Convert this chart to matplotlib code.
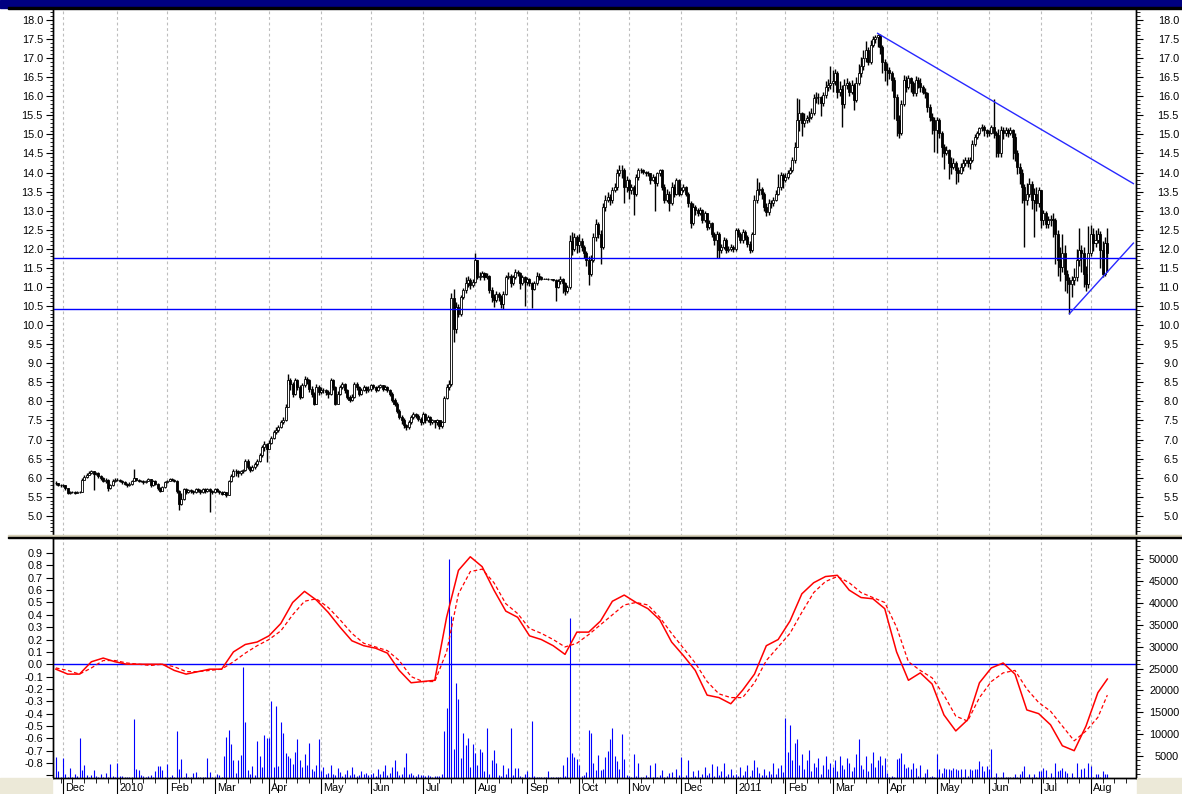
import numpy as np
import pandas as pd
import matplotlib
matplotlib.use('Agg')
import matplotlib.pyplot as plt
from matplotlib.patches import Rectangle
from matplotlib.ticker import MultipleLocator, FixedLocator

plt.rcParams['font.family'] = ['Liberation Sans', 'DejaVu Sans']
plt.rcParams['font.size'] = 7.8

# daily sessions, 26 Nov 2009 .. 10 Aug 2011 (one line per month)
close = [
    5.85, 5.82, 5.80,
    5.80, 5.72, 5.60, 5.62, 5.62, 5.61, 5.62, 5.63, 5.95, 6.02, 6.08, 6.13, 6.17, 6.10, 6.13, 6.05, 6.00, 5.92, 5.95, 5.72, 5.80, 5.92, 5.95,
    5.95, 5.92, 5.88, 5.84, 5.80, 5.84, 5.92, 5.98, 5.95, 5.92, 5.92, 5.88, 5.92, 5.96, 5.80, 5.92, 5.84, 5.72, 5.66, 5.75, 5.88,
    5.92, 5.96, 5.95, 5.92, 5.65, 5.30, 5.45, 5.70, 5.62, 5.68, 5.65, 5.62, 5.70, 5.68, 5.62, 5.70, 5.66, 5.70, 5.66, 5.62,
    5.70, 5.66, 5.62, 5.58, 5.62, 5.55, 5.92, 6.05, 6.17, 6.17, 6.12, 6.17, 6.20, 6.45, 6.27, 6.20, 6.27, 6.35, 6.45, 6.60, 6.80, 6.89, 6.75,
    6.90, 7.05, 7.20, 7.25, 7.32, 7.45, 7.50, 7.85, 8.55, 8.46, 8.20, 8.55, 8.38, 8.11, 8.42, 8.60, 8.55, 8.33, 8.20, 7.94, 8.38, 8.24,
    8.30, 8.29, 8.24, 8.20, 8.55, 8.38, 7.94, 8.20, 8.38, 8.46, 8.29, 8.11, 8.03, 8.11, 8.46, 8.38, 8.20, 8.29, 8.38, 8.29, 8.33,
    8.42, 8.38, 8.29, 8.38, 8.42, 8.33, 8.38, 8.29, 8.20, 8.03, 7.94, 7.76, 7.60, 7.50, 7.38, 7.32, 7.45, 7.60, 7.67, 7.63, 7.55, 7.45,
    7.68, 7.50, 7.60, 7.45, 7.50, 7.45, 7.50, 7.35, 7.45, 8.10, 8.38, 8.46, 10.70, 9.90, 10.47, 10.30, 10.74, 10.91, 11.10, 11.18, 11.05, 11.14,
    11.70, 11.27, 11.30, 11.36, 11.27, 11.30, 10.91, 10.74, 10.65, 10.82, 10.74, 10.56, 10.82, 11.27, 11.30, 11.10, 11.27, 11.40, 11.36, 11.10, 11.27, 11.14,
    11.20, 11.10, 10.95, 11.10, 11.30, 11.25, 11.22, 11.22, 11.22, 11.20, 11.20, 11.18, 11.00, 11.15, 11.20, 11.10, 10.90, 11.00, 12.20, 12.00, 12.30, 12.10,
    12.20, 12.05, 11.88, 11.70, 11.35, 11.70, 12.30, 12.65, 12.40, 12.05, 13.10, 13.28, 13.37, 13.28, 13.54, 13.63, 13.98, 14.06, 14.06, 13.63, 13.80,
    13.54, 13.63, 13.45, 13.89, 14.06, 14.06, 14.02, 13.98, 13.98, 13.80, 13.89, 13.72, 13.98, 14.06, 13.63, 13.28, 13.45, 13.19, 13.63, 13.45, 13.80, 13.45,
    13.54, 13.63, 13.45, 13.19, 12.67, 13.10, 13.01, 12.93, 13.01, 12.75, 12.93, 12.58, 12.67, 12.40, 12.22, 12.40, 11.96, 12.05, 12.22, 11.96, 12.00, 12.05, 12.00,
    12.50, 12.40, 12.22, 12.45, 12.30, 12.13, 11.96, 12.40, 13.28, 13.54, 13.58, 13.45, 13.10, 12.97, 13.19, 13.19, 13.28, 13.45, 13.63, 13.93, 13.80,
    13.89, 13.98, 14.06, 14.32, 14.67, 15.38, 15.55, 15.29, 15.38, 15.42, 15.46, 15.55, 15.95, 15.99, 15.99, 15.82, 16.03, 16.25, 16.30, 16.34,
    16.40, 16.60, 16.10, 16.20, 15.80, 16.30, 16.35, 16.10, 16.30, 15.90, 16.35, 16.60, 16.80, 17.00, 17.20, 16.90, 17.35, 17.50, 17.55, 17.60, 17.30, 16.90, 16.70,
    16.69, 16.60, 16.43, 15.99, 15.38, 15.03, 15.81, 16.43, 16.25, 16.47, 16.34, 16.08, 16.43, 16.34, 16.25, 16.12, 16.08, 15.73, 15.46, 15.38, 15.11,
    15.38, 15.03, 14.68, 14.50, 14.59, 14.24, 14.15, 14.24, 14.06, 13.98, 14.15, 14.24, 14.33, 14.24, 14.33, 14.76, 14.94, 15.03, 15.16, 15.20, 15.11, 15.03,
    15.03, 15.20, 15.03, 14.98, 14.50, 15.11, 15.03, 15.11, 15.03, 15.11, 14.94, 14.50, 14.15, 13.98, 13.63, 13.28, 13.45, 13.71, 13.28, 13.45, 13.19, 13.54,
    12.75, 12.93, 12.66, 12.75, 12.79, 12.75, 12.40, 11.70, 11.53, 11.88, 11.35, 11.18, 11.09, 11.18, 11.26, 11.70, 11.96, 11.88, 11.35, 11.09, 11.88,
    12.40, 12.14, 12.23, 12.40, 11.96, 11.35, 12.14, 11.88,
]

high = [
    5.90, 5.86, 5.84,
    5.84, 5.80, 5.72, 5.66, 5.65, 5.64, 5.65, 5.66, 6.00, 6.06, 6.12, 6.18, 6.20, 6.18, 6.16, 6.14, 6.06, 6.02, 5.98, 5.96, 5.84, 5.96, 6.00,
    5.98, 5.97, 5.94, 5.90, 5.86, 5.88, 5.95, 6.22, 6.00, 5.97, 5.95, 5.93, 5.95, 5.99, 5.97, 5.95, 5.93, 5.86, 5.75, 5.78, 5.91,
    5.95, 5.99, 5.98, 5.96, 5.94, 5.68, 5.60, 5.74, 5.72, 5.71, 5.70, 5.68, 5.73, 5.72, 5.70, 5.73, 5.72, 5.74, 5.72, 5.68,
    5.73, 5.72, 5.68, 5.64, 5.65, 5.63, 5.95, 6.10, 6.22, 6.22, 6.20, 6.21, 6.24, 6.50, 6.48, 6.30, 6.32, 6.40, 6.50, 6.65, 6.85, 6.95, 6.92,
    6.98, 7.10, 7.26, 7.32, 7.38, 7.50, 7.58, 7.92, 8.73, 8.62, 8.50, 8.62, 8.58, 8.42, 8.48, 8.66, 8.64, 8.58, 8.40, 8.24, 8.45, 8.42,
    8.38, 8.36, 8.32, 8.30, 8.62, 8.58, 8.40, 8.28, 8.44, 8.52, 8.48, 8.32, 8.18, 8.20, 8.52, 8.50, 8.40, 8.34, 8.44, 8.40, 8.40,
    8.46, 8.45, 8.40, 8.42, 8.46, 8.44, 8.42, 8.40, 8.32, 8.24, 8.10, 7.98, 7.80, 7.65, 7.56, 7.42, 7.50, 7.65, 7.72, 7.70, 7.66, 7.58,
    7.72, 7.70, 7.64, 7.62, 7.55, 7.52, 7.54, 7.52, 7.48, 8.15, 8.45, 8.55, 10.85, 10.95, 10.60, 10.55, 10.80, 10.98, 11.25, 11.30, 11.24, 11.20,
    11.90, 11.72, 11.38, 11.42, 11.40, 11.36, 11.32, 11.00, 10.82, 10.90, 10.88, 10.78, 10.90, 11.32, 11.38, 11.34, 11.32, 11.46, 11.44, 11.38, 11.32, 11.30,
    11.26, 11.24, 11.14, 11.16, 11.40, 11.36, 11.28, 11.24, 11.23, 11.23, 11.22, 11.22, 11.20, 11.20, 11.28, 11.24, 11.12, 11.05, 12.35, 12.45, 12.42, 12.36,
    12.40, 12.28, 12.10, 11.95, 11.80, 11.85, 12.42, 12.78, 12.70, 12.50, 13.20, 13.40, 13.50, 13.45, 13.62, 13.72, 14.10, 14.20, 14.20, 14.12, 13.92,
    13.82, 13.70, 13.68, 13.95, 14.12, 14.12, 14.10, 14.05, 14.04, 14.00, 13.95, 13.92, 14.02, 14.10, 14.08, 13.70, 13.58, 13.52, 13.75, 13.70, 13.86, 13.82,
    13.62, 13.70, 13.66, 13.50, 13.25, 13.20, 13.15, 13.08, 13.10, 13.05, 13.00, 12.95, 12.75, 12.70, 12.45, 12.48, 12.45, 12.12, 12.30, 12.28, 12.08, 12.12, 12.10,
    12.55, 12.55, 12.45, 12.52, 12.50, 12.35, 12.20, 12.45, 13.40, 13.85, 13.75, 13.62, 13.50, 13.20, 13.30, 13.28, 13.35, 13.55, 13.95, 14.02, 13.98,
    13.98, 14.06, 14.15, 14.40, 14.80, 15.95, 15.92, 15.60, 15.55, 15.52, 15.62, 15.70, 16.05, 16.10, 16.08, 16.02, 16.12, 16.40, 16.45, 16.80,
    16.70, 16.72, 16.65, 16.40, 16.30, 16.45, 16.48, 16.40, 16.42, 16.35, 16.50, 16.85, 17.02, 17.22, 17.45, 17.30, 17.48, 17.58, 17.60, 17.62, 17.62, 17.35, 16.98,
    16.86, 16.78, 16.65, 16.50, 16.05, 15.50, 15.90, 16.55, 16.52, 16.55, 16.50, 16.40, 16.52, 16.50, 16.48, 16.30, 16.22, 16.10, 15.80, 15.55, 15.45,
    15.45, 15.42, 15.10, 14.75, 14.70, 14.62, 14.40, 14.38, 14.30, 14.15, 14.25, 14.35, 14.42, 14.40, 14.40, 14.85, 15.00, 15.10, 15.20, 15.28, 15.25, 15.15,
    15.12, 15.25, 15.92, 15.10, 15.15, 15.22, 15.20, 15.20, 15.18, 15.20, 15.15, 15.05, 14.60, 14.25, 14.10, 13.70, 13.72, 13.85, 13.78, 13.60, 13.62, 13.62,
    13.20, 13.02, 12.98, 12.85, 12.88, 12.95, 12.82, 12.50, 12.05, 12.40, 12.10, 11.45, 11.25, 11.30, 11.50, 12.00, 12.55, 12.10, 12.05, 11.55, 12.60,
    12.62, 12.55, 12.50, 12.55, 12.48, 12.20, 12.30, 12.55,
]

low = [
    5.80, 5.78, 5.76,
    5.76, 5.68, 5.56, 5.58, 5.59, 5.58, 5.59, 5.60, 5.62, 5.94, 6.00, 6.06, 6.10, 5.68, 6.06, 6.00, 5.94, 5.88, 5.86, 5.66, 5.70, 5.78, 5.88,
    5.90, 5.88, 5.84, 5.80, 5.76, 5.78, 5.82, 5.90, 5.90, 5.88, 5.88, 5.84, 5.86, 5.90, 5.76, 5.78, 5.80, 5.68, 5.62, 5.64, 5.72,
    5.86, 5.90, 5.91, 5.88, 5.60, 5.15, 5.28, 5.42, 5.58, 5.60, 5.60, 5.56, 5.60, 5.62, 5.56, 5.60, 5.60, 5.62, 5.10, 5.58,
    5.60, 5.62, 5.58, 5.54, 5.56, 5.50, 5.60, 5.88, 6.02, 6.05, 6.02, 6.08, 6.12, 6.18, 6.22, 6.14, 6.18, 6.24, 6.30, 6.42, 6.55, 6.70, 6.40,
    6.75, 6.88, 7.02, 7.15, 7.20, 7.30, 7.40, 7.48, 7.85, 8.30, 8.12, 8.18, 8.30, 8.05, 8.10, 8.38, 8.45, 8.25, 8.12, 7.90, 7.95, 8.18,
    8.20, 8.22, 8.18, 8.10, 8.18, 8.30, 7.90, 7.92, 8.16, 8.32, 8.22, 8.05, 7.98, 8.00, 8.08, 8.30, 8.14, 8.18, 8.26, 8.22, 8.24,
    8.28, 8.32, 8.24, 8.26, 8.34, 8.28, 8.30, 8.24, 8.15, 7.98, 7.88, 7.70, 7.55, 7.42, 7.30, 7.25, 7.28, 7.40, 7.55, 7.56, 7.48, 7.38,
    7.42, 7.44, 7.46, 7.38, 7.40, 7.30, 7.38, 7.28, 7.30, 7.45, 8.05, 8.30, 8.40, 9.55, 9.80, 10.20, 10.25, 10.68, 10.85, 11.00, 10.95, 11.00,
    11.10, 11.20, 11.18, 11.25, 11.18, 11.20, 10.85, 10.60, 10.48, 10.60, 10.62, 10.45, 10.42, 10.80, 11.20, 11.00, 11.05, 11.22, 11.28, 10.95, 11.05, 10.50,
    11.05, 11.02, 10.45, 10.92, 11.05, 11.18, 11.18, 11.20, 11.20, 11.18, 11.17, 11.15, 10.62, 10.98, 11.08, 10.85, 10.78, 10.85, 10.95, 11.85, 11.95, 11.90,
    11.92, 11.95, 11.75, 11.55, 11.05, 11.30, 11.65, 12.20, 12.28, 11.60, 12.00, 13.00, 13.22, 13.15, 13.20, 13.48, 13.55, 13.90, 13.85, 13.20, 13.50,
    13.30, 13.45, 12.90, 13.38, 13.80, 13.98, 13.95, 13.90, 13.90, 13.70, 13.78, 13.00, 13.65, 13.92, 13.55, 13.20, 13.22, 13.00, 13.15, 13.35, 13.40, 13.38,
    13.40, 13.50, 13.38, 13.10, 12.55, 12.62, 12.90, 12.85, 12.88, 12.68, 12.70, 12.50, 12.52, 12.30, 12.10, 11.75, 11.75, 11.90, 12.00, 11.90, 11.92, 11.95, 11.92,
    11.95, 12.32, 12.15, 12.15, 12.22, 12.05, 11.90, 11.92, 12.40, 13.20, 13.40, 13.30, 13.00, 12.85, 12.90, 13.08, 13.12, 13.25, 13.40, 13.55, 13.60,
    13.75, 13.82, 13.95, 14.02, 14.25, 14.70, 15.10, 14.95, 15.20, 15.30, 15.32, 15.40, 15.50, 15.82, 15.80, 15.48, 15.75, 15.95, 16.15, 16.20,
    16.10, 16.30, 15.95, 16.00, 15.20, 15.70, 16.18, 16.00, 16.05, 15.65, 15.85, 16.30, 16.50, 16.70, 16.90, 16.82, 16.85, 17.30, 17.40, 17.28, 17.10, 16.60, 16.40,
    16.30, 16.45, 16.15, 15.40, 14.95, 14.90, 14.98, 15.75, 16.10, 16.18, 16.12, 16.00, 16.02, 16.22, 16.10, 16.05, 15.95, 15.60, 15.35, 15.00, 14.55,
    14.50, 14.90, 14.40, 14.10, 14.45, 13.82, 13.95, 14.10, 13.70, 13.75, 13.95, 14.05, 14.18, 14.15, 14.08, 14.28, 14.70, 14.88, 14.98, 15.08, 14.95, 14.92,
    14.95, 15.00, 14.90, 14.40, 14.40, 14.40, 14.88, 14.95, 14.92, 14.98, 14.35, 14.30, 13.95, 13.70, 13.20, 12.05, 13.15, 13.35, 13.05, 12.30, 13.00, 13.10,
    12.55, 12.62, 12.55, 12.55, 12.60, 12.30, 11.60, 11.30, 11.15, 11.40, 10.90, 10.85, 10.30, 10.75, 11.05, 11.15, 11.55, 11.40, 11.00, 10.90, 10.98,
    11.80, 11.95, 12.05, 12.15, 11.50, 11.25, 11.30, 11.40,
]

volume = [
    4700, 1500, 300,
    4500, 800, 300, 2300, 300, 800, 500, 9100, 1900, 2900, 600, 300, 600, 1900, 500, 300, 1000, 300, 1100, 200, 3200, 500, 300,
    3500, 400, 400, 200, 300, 300, 200, 13500, 2100, 1900, 600, 500, 300, 400, 600, 300, 1600, 2700, 2700, 1900, 300,
    3300, 300, 600, 300, 10700, 2000, 4300, 300, 1100, 300, 200, 1100, 1400, 300, 300, 200, 300, 4500, 1400, 200,
    300, 800, 700, 300, 5000, 9400, 11000, 7700, 4100, 1100, 4100, 5200, 25300, 12800, 1900, 800, 2700, 700, 8400, 5000, 2500, 9800, 9100,
    9100, 17600, 2500, 16400, 2700, 12800, 10300, 5700, 5000, 4600, 3300, 6000, 9000, 4000, 2500, 5500, 3000, 8000, 2000, 1500, 3000, 9000,
    1500, 2500, 800, 1200, 3000, 1000, 600, 2200, 1400, 500, 800, 1800, 600, 2600, 1000, 400, 700, 1500, 900, 1200, 600,
    800, 1200, 500, 2000, 900, 1500, 3000, 700, 1100, 2500, 4000, 1600, 600, 1000, 2500, 5700, 800, 1200, 600, 400, 1000, 600,
    600, 400, 700, 500, 300, 400, 500, 400, 800, 10700, 16000, 50000, 37000, 6600, 21700, 18000, 4600, 10300, 7500, 9100, 2500, 7800,
    5700, 3000, 6600, 5900, 1500, 11400, 800, 4100, 6400, 3400, 600, 500, 3000, 900, 2300, 11400, 700, 2300, 2300, 400, 300, 900,
    1500, 200, 13000, 500, 300, 200, 200, 200, 300, 1500, 200, 200, 200, 200, 300, 3000, 500, 4800, 36500, 5700, 4800, 4300,
    3000, 400, 600, 1400, 11000, 10300, 3400, 1900, 5200, 1900, 2000, 4700, 6200, 8900, 11400, 5000, 3900, 2000, 10000, 4300, 600,
    500, 300, 5500, 400, 3400, 200, 300, 600, 300, 3000, 200, 3400, 300, 600, 1900, 300, 400, 1200, 1400, 300, 2000, 600,
    4800, 300, 600, 4100, 200, 1500, 500, 1900, 300, 800, 2500, 600, 1200, 3200, 400, 2800, 700, 1500, 3500, 500, 900, 2000, 600,
    1000, 400, 2500, 600, 1500, 3000, 500, 1800, 4000, 2500, 1200, 700, 2000, 600, 1500, 900, 3500, 1000, 2200, 3000, 1400,
    13700, 6000, 12000, 4000, 8000, 9000, 3000, 5500, 2000, 4000, 6500, 1500, 3500, 2500, 4500, 1000, 3000, 5000, 2000, 3500,
    2500, 4000, 1500, 5000, 3000, 2000, 4500, 3500, 1500, 2500, 5500, 9000, 3000, 2000, 5000, 1500, 3500, 6000, 2500, 4000, 5000, 3000, 4500,
    1200, 300, 400, 300, 4300, 4500, 5700, 3200, 2200, 2600, 2000, 3400, 2200, 400, 2900, 300, 1200, 2000, 300, 500, 200,
    5500, 2000, 1200, 2200, 2000, 2100, 1900, 2200, 2000, 1800, 2100, 300, 2000, 500, 2100, 1900, 2000, 2100, 3900, 2700, 1700, 2700,
    2000, 6600, 300, 1200, 300, 200, 1400, 300, 200, 200, 300, 900, 200, 900, 1700, 2700, 300, 800, 200, 1000, 300, 1700,
    1500, 2200, 1900, 300, 1200, 300, 3400, 1600, 1800, 2200, 1500, 1200, 300, 1200, 300, 3400, 300, 2000, 2200, 300, 3400,
    2700, 300, 900, 800, 300, 1500, 800, 900,
]

# oscillator, read every 5th session plus the last one
osc = [
    -0.04, -0.08, -0.08, 0.02, 0.05, 0.02, 0.00, 0.00, 0.00, 0.00,
    -0.05, -0.08, -0.06, -0.04, -0.04, 0.10, 0.16, 0.18, 0.23, 0.33,
    0.50, 0.59, 0.52, 0.42, 0.30, 0.19, 0.15, 0.13, 0.09, -0.05,
    -0.15, -0.14, -0.13, 0.38, 0.76, 0.87, 0.79, 0.60, 0.43, 0.38,
    0.23, 0.20, 0.15, 0.08, 0.26, 0.26, 0.35, 0.51, 0.56, 0.50,
    0.45, 0.36, 0.18, 0.07, -0.05, -0.25, -0.27, -0.32, -0.21, -0.08,
    0.15, 0.20, 0.35, 0.57, 0.66, 0.71, 0.72, 0.60, 0.54, 0.53,
    0.45, 0.10, -0.13, -0.07, -0.16, -0.41, -0.54, -0.45, -0.15, -0.03,
    0.01, -0.08, -0.37, -0.40, -0.49, -0.66, -0.70, -0.50, -0.23, -0.12,
]
osc_signal = [
    -0.03, -0.05, -0.08, -0.03, 0.03, 0.03, 0.01, 0.00, -0.01, 0.00,
    -0.02, -0.06, -0.06, -0.05, -0.04, 0.02, 0.09, 0.15, 0.20, 0.27,
    0.40, 0.51, 0.53, 0.46, 0.36, 0.25, 0.17, 0.14, 0.11, 0.03,
    -0.10, -0.14, -0.14, 0.10, 0.57, 0.75, 0.77, 0.66, 0.49, 0.41,
    0.29, 0.25, 0.20, 0.14, 0.17, 0.24, 0.32, 0.40, 0.48, 0.50,
    0.48, 0.38, 0.25, 0.13, 0.01, -0.14, -0.24, -0.27, -0.27, -0.15,
    0.03, 0.14, 0.25, 0.42, 0.58, 0.67, 0.71, 0.66, 0.58, 0.54,
    0.50, 0.30, 0.02, -0.05, -0.11, -0.25, -0.42, -0.46, -0.27, -0.14,
    -0.07, -0.05, -0.20, -0.31, -0.38, -0.50, -0.62, -0.54, -0.43, -0.25,
]

support = [11.75, 10.41]
trend_down = [('2011-03-28', 17.65), ('2011-08-25', 13.71)]
trend_up = [('2011-07-19', 10.30), ('2011-08-25', 12.15)]

n = len(close)
assert len(high) == n and len(low) == n and len(volume) == n, (n, len(high), len(low), len(volume))
dates = pd.bdate_range('2009-11-26', periods=n)
x = np.arange(n)
c = np.array(close)
o = np.r_[c[0], c[:-1]]
hi = np.maximum(np.array(high), np.maximum(o, c))
lo = np.minimum(np.array(low), np.minimum(o, c))
osc_x = list(range(0, n, 5)) + [n - 1]


def day_pos(d):
    return np.busday_count(dates[0].date(), pd.Timestamp(d).date())


W, H = 1182, 794
PT = 0.72  # points per pixel at 100 dpi
fig = plt.figure(figsize=(W / 100, H / 100), dpi=100)
L, R = 53, 1136
ax = fig.add_axes([L / W, 1 - 536 / H, (R - L) / W, (536 - 9) / H])
axv = fig.add_axes([L / W, 1 - 778 / H, (R - L) / W, (778 - 538) / H])
axo = axv.twinx()
axr = ax.twinx()

xlim = (-1.2, 456.1)
axis_days = pd.bdate_range(dates[0], periods=int(xlim[1]) + 1)
month_idx = [i for i in range(1, len(axis_days)) if axis_days[i].month != axis_days[i - 1].month]
monday_idx = [i for i, d in enumerate(axis_days) if d.weekday() == 0]

grid_kw = dict(color='#bdbdbd', lw=0.8, linestyle=(0, (2.5, 2.5)), zorder=0)
for i in month_idx:
    ax.axvline(i, **grid_kw)
    axv.axvline(i, **grid_kw)

# price candles
up = c >= o
ax.vlines(x, lo, hi, color='black', lw=1.0, zorder=2)
ax.bar(x[up], (c - o)[up], bottom=o[up], width=0.85, facecolor='white',
       edgecolor='black', lw=0.6, zorder=3)
ax.bar(x[~up], (o - c)[~up], bottom=c[~up], width=0.85, facecolor='black',
       edgecolor='black', lw=0.6, zorder=3)

for lvl in support:
    ax.axhline(lvl, color='#0000ff', lw=1.0, zorder=4)
for tl in (trend_down, trend_up):
    ax.plot([day_pos(d) for d, _ in tl], [p for _, p in tl], color='#2828ff', lw=1.0, zorder=4)

# volume + oscillator
axv.vlines(x, 0, volume, color='#0000ff', lw=0.8)
axo.axhline(0, color='#0000ff', lw=1.0)
axo.plot(osc_x, osc, color='#ff0000', lw=1.1)
axo.plot(osc_x, osc_signal, color='#ff0000', lw=0.9, linestyle=(0, (3, 2)))

for a in (ax, axr, axv, axo):
    a.set_xlim(*xlim)
    for s in a.spines.values():
        s.set_linewidth(1.0)

# price axis (both sides)
ylim_p = (4.471, 18.288)
price_ticks = np.arange(5.0, 18.01, 0.5)
for a in (ax, axr):
    a.set_ylim(*ylim_p)
    a.yaxis.set_major_locator(FixedLocator(price_ticks))
    a.yaxis.set_major_formatter('{x:.1f}')
    a.yaxis.set_minor_locator(MultipleLocator(0.1))
    a.spines['top'].set_visible(False)
    a.spines['bottom'].set_visible(False)
    a.tick_params(axis='x', which='both', bottom=False, labelbottom=False)
ax.tick_params(axis='y', which='major', length=7 * PT, pad=3 * PT)
ax.tick_params(axis='y', which='minor', length=3.5 * PT)
axr.tick_params(axis='y', which='major', length=7 * PT, pad=36 * PT)
axr.tick_params(axis='y', which='minor', length=3.5 * PT)
plt.setp(axr.get_yticklabels(), ha='right')

# oscillator axis (left)
axo.yaxis.tick_left()
axo.set_ylim(-0.921, 1.022)
osc_ticks = np.round(np.arange(-0.9, 0.91, 0.1), 1)
axo.yaxis.set_major_locator(FixedLocator(osc_ticks))
axo.set_yticklabels(['' if t == -0.9 else f'{t + 0.0:.1f}' for t in osc_ticks])
axo.tick_params(axis='y', length=7 * PT, pad=3 * PT)

# volume axis (right)
axv.yaxis.tick_right()
axv.set_ylim(0, 54795)
axv.yaxis.set_major_locator(FixedLocator(np.arange(5000, 50001, 5000)))
axv.yaxis.set_major_formatter('{x:.0f}')
axv.yaxis.set_minor_locator(MultipleLocator(1000))
axv.tick_params(axis='y', which='major', length=7 * PT, pad=36 * PT)
axv.tick_params(axis='y', which='minor', length=3.5 * PT)
plt.setp(axv.get_yticklabels(), ha='right')

# month axis
axv.xaxis.set_major_locator(FixedLocator(month_idx))
axv.xaxis.set_minor_locator(FixedLocator(monday_idx))
axv.tick_params(axis='x', which='major', length=16 * PT, labelbottom=False)
axv.tick_params(axis='x', which='minor', length=5 * PT)
for i in month_idx:
    d = axis_days[i]
    lbl = str(d.year) if d.month == 1 else d.strftime('%b')
    axv.annotate(lbl, xy=(i, 0), xycoords=('data', 'axes fraction'),
                 xytext=(2.5 * PT, -10 * PT), textcoords='offset points',
                 ha='left', va='center', annotation_clip=False)

# window decorations
fig.patches.append(Rectangle((0, 1 - 7.5 / H), 1, 7.5 / H, color='#000080',
                             transform=fig.transFigure))
fig.patches.append(Rectangle((8 / W, 1 - 9 / H), 1, 1.5 / H, color='black',
                             transform=fig.transFigure))
fig.patches.append(Rectangle((8 / W, 1 - 537 / H), 1, 2 / H, color='#d6d0b8',
                             transform=fig.transFigure))
fig.patches.append(Rectangle((8 / W, 1 - 538.3 / H), 1, 1.3 / H, color='black',
                             transform=fig.transFigure))
fig.patches.append(Rectangle((0, 0), 52 / W, 16 / H, color='#ece9d8',
                             transform=fig.transFigure))
fig.patches.append(Rectangle((1137 / W, 0), 1, 16 / H, color='#ece9d8',
                             transform=fig.transFigure))

fig.savefig('out.png', dpi=100)
